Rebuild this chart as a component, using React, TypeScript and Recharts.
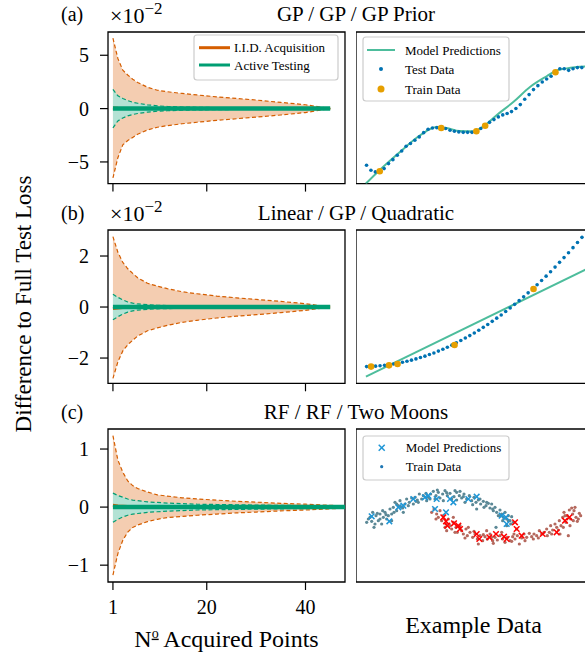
import React from 'react';
import { ComposedChart, Area, Line, Scatter, XAxis, YAxis, ReferenceArea } from 'recharts';

const SERIF = '"Liberation Serif", "Times New Roman", Times, serif';
const IID = '#d55e00';
const ACTIVE = '#009e73';
const IID_FILL = '#f4cdb1';
const ACTIVE_FILL = '#b3e2d4';
const PRED = '#4dbd9c';
const TEST = '#0072b2';
const TRAIN = '#e69f00';
const MOON_A = '#5b8896';
const MOON_B = '#b5695e';
const PRED_A = '#1e96d6';
const PRED_B = '#ff0000';

// number of acquired points
const steps = [1, 2, 3, 4, 5, 6, 8, 10, 12, 15, 18, 22, 26, 30, 35, 40, 45];
const stepsLong = [1, 2, 3, 4, 5, 6, 8, 10, 12, 15, 18, 22, 26, 30, 35, 40, 45, 48];

// (a) GP / GP / GP Prior  (units of 1e-2)
const iidHiA = [6.6, 4.7, 3.6, 3.15, 2.75, 2.45, 2.0, 1.72, 1.58, 1.42, 1.28, 1.1, 0.95, 0.8, 0.58, 0.36, 0];
const iidLoA = [-6.5, -4.6, -3.4, -3.0, -2.7, -2.4, -2.0, -1.75, -1.6, -1.42, -1.28, -1.1, -0.95, -0.8, -0.6, -0.37, 0];
const iidMeanA = [0.06, 0.03, 0.02, 0.01, 0, 0, 0, 0, 0, 0, 0, 0, 0, 0, 0, 0, 0];
const atHiA = [1.8, 1.2, 0.95, 0.75, 0.6, 0.5, 0.35, 0.26, 0.2, 0.15, 0.12, 0.1, 0.08, 0.06, 0.05, 0.03, 0];
const atLoA = [-1.8, -1.15, -0.88, -0.68, -0.55, -0.46, -0.33, -0.25, -0.2, -0.15, -0.12, -0.1, -0.08, -0.06, -0.05, -0.03, 0];
const atMeanA = [0, 0, 0, 0, 0, 0, 0, 0, 0, 0, 0, 0, 0, 0, 0, 0, 0];

// (b) Linear / GP / Quadratic  (units of 1e-2)
const iidHiB = [2.76, 2.15, 1.75, 1.5, 1.32, 1.15, 0.93, 0.82, 0.72, 0.6, 0.52, 0.43, 0.36, 0.3, 0.22, 0.13, 0];
const iidLoB = [-2.8, -2.15, -1.72, -1.48, -1.3, -1.14, -0.93, -0.82, -0.72, -0.6, -0.52, -0.43, -0.36, -0.3, -0.22, -0.13, 0];
const iidMeanB = [-0.06, -0.04, -0.02, -0.01, 0, 0, 0, 0, 0, 0, 0, 0, 0, 0, 0, 0, 0];
const atHiB = [0.5, 0.38, 0.28, 0.2, 0.15, 0.12, 0.09, 0.07, 0.06, 0.05, 0.04, 0.03, 0.03, 0.02, 0.02, 0.01, 0];
const atLoB = [-0.5, -0.38, -0.28, -0.2, -0.15, -0.12, -0.09, -0.07, -0.06, -0.05, -0.04, -0.03, -0.03, -0.02, -0.02, -0.01, 0];
const atMeanB = [0, 0, 0, 0, 0, 0, 0, 0, 0, 0, 0, 0, 0, 0, 0, 0, 0];

// (c) RF / RF / Two Moons
const iidHiC = [1.23, 0.81, 0.6, 0.45, 0.37, 0.32, 0.26, 0.21, 0.19, 0.16, 0.14, 0.12, 0.1, 0.085, 0.065, 0.05, 0.03, 0.02];
const iidLoC = [-1.17, -0.8, -0.57, -0.43, -0.35, -0.31, -0.25, -0.21, -0.18, -0.16, -0.14, -0.12, -0.1, -0.085, -0.065, -0.05, -0.03, -0.02];
const iidMeanC = [0.03, 0.02, 0.015, 0.01, 0.01, 0.01, 0.005, 0, 0, 0, 0, 0, 0, 0, 0, 0, 0, 0];
const atHiC = [0.24, 0.2, 0.17, 0.14, 0.12, 0.11, 0.09, 0.08, 0.07, 0.06, 0.05, 0.045, 0.04, 0.035, 0.03, 0.025, 0.02, 0.015];
const atLoC = [-0.26, -0.21, -0.17, -0.14, -0.12, -0.11, -0.09, -0.08, -0.07, -0.06, -0.05, -0.045, -0.04, -0.035, -0.03, -0.025, -0.02, -0.015];
const atMeanC = [0, 0, 0, 0, 0, 0, 0, 0, 0, 0, 0, 0, 0, 0, 0, 0, 0, 0];

// example data, GP prior draw
const gpTest = [1.21, 0.88, 0.77, 0.84, 0.99, 1.32, 1.58, 1.87, 2.15, 2.46, 2.64, 2.86, 3.08, 3.36, 3.58, 3.67, 3.69, 3.69, 3.63, 3.52, 3.45, 3.41, 3.38, 3.38, 3.38, 3.45, 3.63, 3.82, 4.04, 4.22, 4.4, 4.53, 4.62, 4.75, 4.95, 5.21, 5.56, 5.87, 6.2, 6.46, 6.7, 6.9, 7.08, 7.34, 7.58, 7.58, 7.47, 7.58, 7.65, 7.65];
const gpTrainX = [3, 17, 25, 27, 43];
const gpTrainY = [0.81, 3.67, 3.45, 3.82, 7.34];
const gpPredX = [-0.15, 3, 7.6, 12.2, 16, 18.2, 21.2, 24.3, 26.6, 29.6, 33.4, 37.2, 41, 43.3, 45.6, 52];
const gpPredY = [0, 0.9, 2.09, 3.19, 3.74, 3.67, 3.47, 3.45, 3.78, 4.51, 5.38, 6.37, 7.08, 7.47, 7.6, 7.75];

// example data, quadratic
const quadTest = [1.09, 1.1, 1.12, 1.14, 1.17, 1.21, 1.26, 1.31, 1.37, 1.44, 1.51, 1.59, 1.68, 1.77, 1.88, 1.98, 2.1, 2.22, 2.35, 2.49, 2.64, 2.79, 2.95, 3.11, 3.28, 3.46, 3.65, 3.84, 4.04, 4.25, 4.46, 4.68, 4.91, 5.15, 5.39, 5.64, 5.9, 6.16, 6.43, 6.71, 6.99, 7.28, 7.58, 7.89, 8.2, 8.52, 8.85, 9.18, 9.52];
const quadTrainX = [1, 5, 6.9, 19.6, 37.2];
const quadTrainY = [1.09, 1.17, 1.26, 2.5, 6.15];
const linPredX = [-0.15, 51];
const linPredY = [0.43, 7.73];

// example data, two moons
const moonUpper: [number, number][] = [
  [0.2, -0.15], [0.3, 0], [0.38, 0.15], [0.42, -0.3], [0.48, 0.05], [0.55, -0.1], [0.6, 0.1], [0.65, -0.2],
  [0.7, 0], [0.75, 0.15], [0.8, -0.05], [0.85, 0.05], [0.9, 0.25], [0.95, 0.1], [1.0, 0.3], [1.05, 0.45],
  [1.1, 0.2], [1.15, 0.35], [1.2, 0.5], [1.28, 0.28], [1.35, 0.4], [1.4, 0.55], [1.48, 0.45], [1.55, 0.58],
  [1.6, 0.4], [1.65, 0.6], [1.72, 0.52], [1.78, 0.7], [1.85, 0.55], [1.9, 0.65], [1.98, 0.72], [2.05, 0.6],
  [2.12, 0.7], [2.2, 0.78], [2.28, 0.65], [2.35, 0.75], [2.4, 0.58], [2.48, 0.7], [2.55, 0.8], [2.62, 0.65],
  [2.7, 0.72], [2.75, 0.55], [2.82, 0.62], [2.9, 0.75], [2.98, 0.65], [3.05, 0.58], [3.12, 0.7], [3.2, 0.55],
  [3.28, 0.65], [3.35, 0.5], [3.42, 0.6], [3.48, 0.45], [3.5, 0.25], [3.55, 0.52], [3.62, 0.4], [3.7, 0.48],
  [3.78, 0.35], [3.85, 0.42], [3.9, 0.28], [3.95, 0.4], [4.0, 0.2], [4.05, 0.3], [4.1, 0.15], [4.15, 0.05],
  [4.2, 0.22], [4.25, 0.1], [4.3, 0], [4.35, 0.15], [4.4, -0.05], [4.45, 0.05], [4.5, -0.1], [4.55, 0.02],
  [4.6, -0.15], [4.08, -0.3], [4.4, -0.25], [2.25, 0.55], [1.3, 0.15], [0.95, -0.1], [0.6, -0.05], [2.5, 0.5],
  [2.9, 0.52], [3.15, 0.45], [0.25, -0.05], [1.1, 0.4], [1.75, 0.45], [2.1, 0.55], [3.0, 0.78], [3.6, 0.55],
  [3.8, 0.45], [4.2, 0.05], [4.45, -0.1], [0.45, -0.2], [0.35, -0.12], [0.52, 0.12], [0.78, 0.08], [1.02, 0.15],
  [1.22, 0.32], [1.45, 0.35], [1.68, 0.48], [2.0, 0.5], [2.32, 0.82], [2.6, 0.74], [2.85, 0.8], [3.1, 0.62],
  [3.38, 0.38], [3.72, 0.3], [3.98, 0.25], [4.28, -0.1], [4.52, -0.2], [0.68, 0.2],
];
const moonLower: [number, number][] = [
  [2.15, 0.15], [2.22, 0.25], [2.3, 0.1], [2.4, 0.2], [2.35, 0], [2.45, -0.1], [2.5, 0.05], [2.58, -0.2],
  [2.65, -0.05], [2.7, -0.25], [2.75, -0.35], [2.8, -0.15], [2.88, -0.3], [2.92, -0.45], [3.0, -0.25], [3.05, -0.4],
  [3.1, -0.5], [3.18, -0.35], [3.22, -0.55], [3.3, -0.45], [3.38, -0.6], [3.45, -0.5], [3.52, -0.65], [3.6, -0.55],
  [3.68, -0.7], [3.75, -0.58], [3.82, -0.65], [3.9, -0.5], [3.98, -0.7], [4.05, -0.6], [4.12, -0.68], [4.2, -0.55],
  [4.28, -0.65], [4.35, -0.75], [4.42, -0.6], [4.5, -0.7], [4.58, -0.58], [4.65, -0.65], [4.72, -0.55], [4.78, -0.8],
  [4.85, -0.62], [4.92, -0.5], [5.0, -0.6], [5.08, -0.48], [5.15, -0.58], [5.22, -0.5], [5.3, -0.55], [5.38, -0.4],
  [5.45, -0.5], [5.52, -0.45], [5.6, -0.35], [5.68, -0.45], [5.72, -0.25], [5.78, -0.38], [5.85, -0.2], [5.9, -0.3],
  [5.98, -0.1], [6.03, -0.25], [6.08, 0], [6.12, 0.15], [6.18, -0.15], [6.22, 0.05], [6.28, 0.22], [6.32, -0.05],
  [6.38, 0.1], [6.42, 0.2], [6.48, 0], [6.52, -0.12], [6.58, 0.12], [6.62, 0.05], [6.3, -0.25], [6.25, -0.55],
  [6.0, -0.5], [4.7, -0.35], [3.8, -0.4], [3.55, -0.8], [2.8, 0], [2.6, -0.4], [3.25, -0.3], [3.95, -0.6],
  [4.55, -0.72], [5.2, -0.65], [5.75, -0.5], [6.15, 0.05], [6.4, -0.1], [2.55, -0.3], [2.85, -0.45], [3.15, -0.62],
  [3.42, -0.42], [3.7, -0.52], [4.0, -0.78], [4.25, -0.45], [4.62, -0.5], [4.95, -0.7], [5.35, -0.62], [5.62, -0.55],
  [5.95, -0.38], [6.1, -0.3], [6.35, 0.28], [6.55, -0.05], [6.45, 0.3], [2.28, -0.05],
];
const predUpper: [number, number][] = [
  [0.35, 0.03], [0.88, -0.12], [1.15, 0.3], [1.3, 0.35], [1.6, 0.55], [1.95, 0.6], [2.05, 0.65], [2.3, 0.55],
  [2.7, 0.55], [2.8, 0.45], [3.25, 0.55], [3.5, 0.62], [2.25, 0.25], [2.58, 0.15], [4.25, 0.05], [4.38, 0], [4.4, -0.2],
];
const predLower: [number, number][] = [
  [2.5, 0], [2.58, -0.12], [2.62, -0.25], [2.82, -0.18], [2.95, -0.25], [3.0, -0.35], [3.5, -0.5], [3.58, -0.65],
  [3.88, -0.6], [4.08, -0.5], [4.32, -0.58], [4.4, -0.65], [4.65, -0.15], [4.7, -0.35], [4.85, -0.55], [5.48, -0.5],
  [5.9, -0.45], [6.15, -0.1], [6.28, 0],
];

const bandRows = (xs: number[], iidLo: number[], iidHi: number[], iidMean: number[], atLo: number[], atHi: number[], atMean: number[]) =>
  xs.map((x, i) => ({
    x,
    iid: [iidLo[i], iidHi[i]],
    iidLo: iidLo[i],
    iidHi: iidHi[i],
    iidMean: iidMean[i],
    at: [atLo[i], atHi[i]],
    atLo: atLo[i],
    atHi: atHi[i],
    atMean: atMean[i],
  }));

const xy = (xs: number[], ys: number[]) => xs.map((x, i) => ({ x, y: ys[i] }));
const pairs = (pts: [number, number][]) => pts.map(([x, y]) => ({ x, y }));

const minus = (v: number) => (v < 0 ? `\u2212${Math.abs(v)}` : `${v}`);
const tickFont = { fontSize: 20, fill: '#000', fontFamily: SERIF };
const tickLine = { stroke: '#000', strokeWidth: 1.2 };

const dot = (color: string, r: number) => (p: any) => <circle cx={p.cx} cy={p.cy} r={r} fill={color} />;
const cross = (color: string, s: number) => (p: any) => (
  <g stroke={color} strokeWidth={1.5}>
    <line x1={p.cx - s} y1={p.cy - s} x2={p.cx + s} y2={p.cy + s} />
    <line x1={p.cx - s} y1={p.cy + s} x2={p.cx + s} y2={p.cy - s} />
  </g>
);

type LossProps = {
  rows: ReturnType<typeof bandRows>;
  top: number;
  height: number;
  yDomain: [number, number];
  yTicks: number[];
  xLabels?: boolean;
};

function LossPanel({ rows, top, height, yDomain, yTicks, xLabels }: LossProps) {
  const xAxisH = xLabels ? 40 : 12;
  return (
    <div style={{ position: 'absolute', left: 0, top: top - 10 }}>
      <ComposedChart width={350} height={10 + height + xAxisH} data={rows} margin={{ top: 10, right: 5, bottom: 0, left: 0 }}>
        <XAxis
          dataKey="x" type="number" domain={[0, 48]} allowDataOverflow ticks={[1, 20, 40]} interval={0}
          axisLine={false} tickSize={8} tickMargin={10} tickLine={tickLine} tick={tickFont}
          tickFormatter={xLabels ? (v: number) => `${v}` : () => ''} height={xAxisH}
        />
        <YAxis
          type="number" domain={yDomain} allowDataOverflow ticks={yTicks} interval={0} width={108}
          axisLine={false} tickSize={8} tickMargin={11} tickLine={tickLine} tick={tickFont} tickFormatter={minus}
        />
        <Area type="linear" dataKey="iid" stroke="none" fill={IID_FILL} fillOpacity={1} isAnimationActive={false} />
        <Area type="linear" dataKey="at" stroke="none" fill={ACTIVE_FILL} fillOpacity={1} isAnimationActive={false} />
        <Line type="linear" dataKey="iidHi" stroke={IID} strokeWidth={1.2} strokeDasharray="4 2.5" dot={false} isAnimationActive={false} />
        <Line type="linear" dataKey="iidLo" stroke={IID} strokeWidth={1.2} strokeDasharray="4 2.5" dot={false} isAnimationActive={false} />
        <Line type="linear" dataKey="atHi" stroke={ACTIVE} strokeWidth={1.2} strokeDasharray="4 2.5" dot={false} isAnimationActive={false} />
        <Line type="linear" dataKey="atLo" stroke={ACTIVE} strokeWidth={1.2} strokeDasharray="4 2.5" dot={false} isAnimationActive={false} />
        <Line type="linear" dataKey="iidMean" stroke={IID} strokeWidth={3} dot={false} isAnimationActive={false} />
        <Line type="linear" dataKey="atMean" stroke={ACTIVE} strokeWidth={4.5} dot={false} isAnimationActive={false} />
        <ReferenceArea x1={0} x2={48} y1={yDomain[0]} y2={yDomain[1]} fill="none" stroke="#000" strokeWidth={1.3} ifOverflow="visible" />
      </ComposedChart>
    </div>
  );
}

type ExampleProps = {
  top: number;
  height: number;
  xDomain: [number, number];
  yDomain: [number, number];
  children: React.ReactNode;
};

function ExamplePanel({ top, height, xDomain, yDomain, children }: ExampleProps) {
  return (
    <div style={{ position: 'absolute', left: 356, top: top - 10 }}>
      <ComposedChart width={239} height={height + 20} margin={{ top: 10, right: 0, bottom: 10, left: 0 }}>
        <XAxis type="number" dataKey="x" domain={xDomain} allowDataOverflow hide />
        <YAxis type="number" dataKey="y" domain={yDomain} allowDataOverflow hide />
        {children}
        <ReferenceArea x1={xDomain[0]} x2={xDomain[1]} y1={yDomain[0]} y2={yDomain[1]} fill="none" stroke="#000" strokeWidth={1.3} ifOverflow="visible" />
      </ComposedChart>
    </div>
  );
}

const lossLegend = [
  { label: 'I.I.D. Acquisition', color: IID },
  { label: 'Active Testing', color: ACTIVE },
];

function LegendBox({ x, y, w, h }: { x: number; y: number; w: number; h: number }) {
  return <rect x={x} y={y} width={w} height={h} rx={3} fill="#fff" fillOpacity={0.8} stroke="#cccccc" strokeWidth={1.2} />;
}

function Overlay() {
  const t = { fontFamily: SERIF, fill: '#000' };
  const legendText = { ...t, fontSize: 13 };
  return (
    <svg width={585} height={658} style={{ position: 'absolute', left: 0, top: 0, pointerEvents: 'none', fontFamily: SERIF }}>
      {/* panel tags, offsets and titles */}
      <text x={61} y={20.5} fontSize={20} {...t}>(a)</text>
      <text x={61} y={219.5} fontSize={20} {...t}>(b)</text>
      <text x={61} y={419} fontSize={20} {...t}>(c)</text>
      <text x={110} y={22.5} fontSize={22} {...t}>×10<tspan dy={-9} fontSize={17}>−2</tspan></text>
      <text x={110} y={220.5} fontSize={22} {...t}>×10<tspan dy={-9} fontSize={17}>−2</tspan></text>
      <text x={356} y={20.7} fontSize={21} textAnchor="middle" {...t}>GP / GP / GP Prior</text>
      <text x={356} y={220} fontSize={21} textAnchor="middle" {...t}>Linear / GP / Quadratic</text>
      <text x={356} y={419.3} fontSize={21} textAnchor="middle" {...t}>RF / RF / Two Moons</text>
      <text transform="translate(31,304) rotate(-90)" fontSize={23} textAnchor="middle" {...t}>Difference to Full Test Loss</text>
      <text x={226.5} y={646.7} fontSize={24} textAnchor="middle" {...t}>
        N<tspan dy={-9} fontSize={14} style={{ textDecoration: 'underline' }}>o</tspan>
        <tspan dy={9}> Acquired Points</tspan>
      </text>
      <text x={473.5} y={632.7} fontSize={24} textAnchor="middle" {...t}>Example Data</text>

      {/* legend, acquisition curves */}
      <LegendBox x={194} y={35} w={144} h={45} />
      {lossLegend.map((it, i) => (
        <g key={it.label}>
          <line x1={199} x2={230} y1={47.7 + i * 17.3} y2={47.7 + i * 17.3} stroke={it.color} strokeWidth={3} />
          <text x={234} y={52.2 + i * 17.3} {...legendText}>{it.label}</text>
        </g>
      ))}

      {/* legend, regression example */}
      <LegendBox x={363} y={37} w={146} h={64} />
      <line x1={367} x2={395} y1={50} y2={50} stroke={PRED} strokeWidth={2} />
      <circle cx={381} cy={69} r={2} fill={TEST} />
      <circle cx={381} cy={89} r={3.5} fill={TRAIN} />
      <text x={405} y={54.5} {...legendText}>Model Predictions</text>
      <text x={405} y={73.5} {...legendText}>Test Data</text>
      <text x={405} y={93.5} {...legendText}>Train Data</text>

      {/* legend, classification example */}
      <LegendBox x={363} y={436} w={146} h={44} />
      <g stroke={PRED_A} strokeWidth={1.5}>
        <line x1={378.7} y1={444.7} x2={384.7} y2={450.7} />
        <line x1={378.7} y1={450.7} x2={384.7} y2={444.7} />
      </g>
      <circle cx={381.7} cy={466.7} r={1.6} fill="#1f77b4" />
      <text x={405.7} y={452} {...legendText}>Model Predictions</text>
      <text x={405.7} y={471} {...legendText}>Train Data</text>
    </svg>
  );
}

export default function App() {
  return (
    <div style={{ position: 'absolute', left: 0, top: 0, width: 585, height: 658, overflow: 'hidden', background: '#fff', fontFamily: SERIF }}>
      <LossPanel rows={bandRows(steps, iidLoA, iidHiA, iidMeanA, atLoA, atHiA, atMeanA)} top={31.7} height={151.6} yDomain={[-7.03, 7.18]} yTicks={[-5, 0, 5]} />
      <LossPanel rows={bandRows(steps, iidLoB, iidHiB, iidMeanB, atLoB, atHiB, atMeanB)} top={230} height={153.3} yDomain={[-2.99, 3.02]} yTicks={[-2, 0, 2]} />
      <LossPanel rows={bandRows(stepsLong, iidLoC, iidHiC, iidMeanC, atLoC, atHiC, atMeanC)} top={429} height={153} yDomain={[-1.29, 1.345]} yTicks={[-1, 0, 1]} xLabels />

      <ExamplePanel top={31.7} height={151.6} xDomain={[-2.4, 52]} yDomain={[0, 10]}>
        <Line data={xy(gpPredX, gpPredY)} dataKey="y" type="monotone" stroke={PRED} strokeWidth={2} dot={false} isAnimationActive={false} />
        <Scatter data={gpTest.map((y, i) => ({ x: i, y }))} fill={TEST} shape={dot(TEST, 1.8)} isAnimationActive={false} />
        <Scatter data={xy(gpTrainX, gpTrainY)} fill={TRAIN} shape={dot(TRAIN, 3.3)} isAnimationActive={false} />
      </ExamplePanel>

      <ExamplePanel top={230} height={153.3} xDomain={[-2.36, 50.9]} yDomain={[0, 10]}>
        <Line data={xy(linPredX, linPredY)} dataKey="y" type="linear" stroke={PRED} strokeWidth={2} dot={false} isAnimationActive={false} />
        <Scatter data={quadTest.map((y, i) => ({ x: i, y }))} fill={TEST} shape={dot(TEST, 1.8)} isAnimationActive={false} />
        <Scatter data={xy(quadTrainX, quadTrainY)} fill={TRAIN} shape={dot(TRAIN, 3.3)} isAnimationActive={false} />
      </ExamplePanel>

      <ExamplePanel top={429} height={153} xDomain={[-0.12, 7.05]} yDomain={[-1.94, 2.65]}>
        <Scatter data={pairs(moonUpper)} fill={MOON_A} shape={dot(MOON_A, 1.6)} isAnimationActive={false} />
        <Scatter data={pairs(moonLower)} fill={MOON_B} shape={dot(MOON_B, 1.6)} isAnimationActive={false} />
        <Scatter data={pairs(predUpper)} fill={PRED_A} shape={cross(PRED_A, 2.8)} isAnimationActive={false} />
        <Scatter data={pairs(predLower)} fill={PRED_B} shape={cross(PRED_B, 2.8)} isAnimationActive={false} />
      </ExamplePanel>

      <Overlay />
    </div>
  );
}
